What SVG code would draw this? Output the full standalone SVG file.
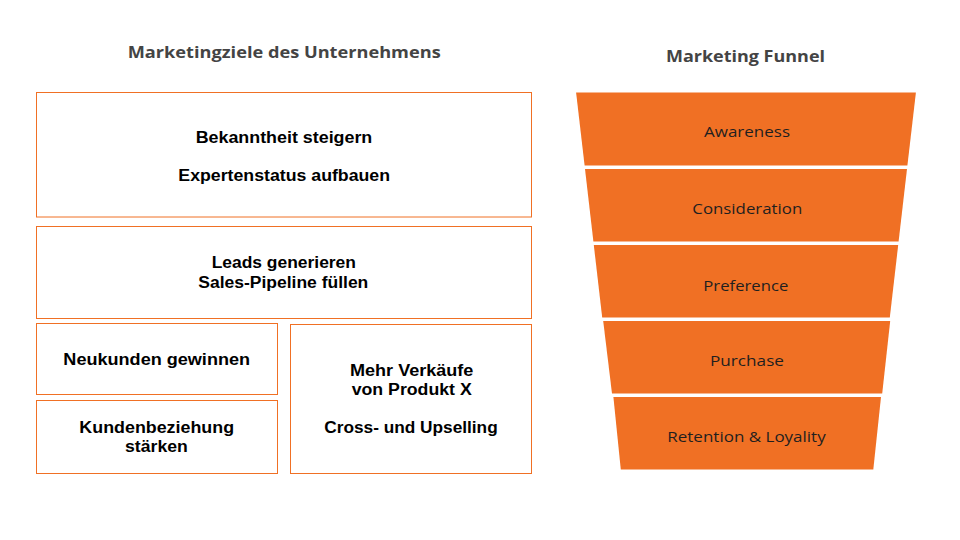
<svg xmlns="http://www.w3.org/2000/svg" width="960" height="540" viewBox="0 0 960 540">
<style>
.title{font-family:"Open Sans","Liberation Sans",sans-serif;font-weight:700;font-size:16px;fill:#444444;text-anchor:middle}
.box{fill:#ffffff;stroke:#F07024;stroke-width:1}
.bt{font-family:"Liberation Sans",Arial,sans-serif;font-weight:700;font-size:16px;fill:#000000;text-anchor:middle}
.seg{fill:#F07024}
.ft{font-family:"Open Sans","Liberation Sans",sans-serif;font-weight:400;font-size:15px;fill:#1f1f1f;text-anchor:middle}
</style>
<rect width="960" height="540" fill="#ffffff"/>
<text class="title" x="284.2" y="58.3" textLength="313" lengthAdjust="spacingAndGlyphs">Marketingziele des Unternehmens</text>
<text class="title" x="745.5" y="61.7" textLength="159" lengthAdjust="spacingAndGlyphs">Marketing Funnel</text>

<g id="goal-awareness">
<rect class="box" x="36.5" y="92.5" width="495" height="124.5"/>
<text class="bt" x="284" y="142.7" textLength="176.6" lengthAdjust="spacingAndGlyphs">Bekanntheit steigern</text>
<text class="bt" x="284.2" y="180.7" textLength="211.7" lengthAdjust="spacingAndGlyphs">Expertenstatus aufbauen</text>
</g>
<g id="goal-leads">
<rect class="box" x="36.5" y="226.5" width="495" height="92"/>
<text class="bt" x="283.8" y="268.3" textLength="144.3" lengthAdjust="spacingAndGlyphs">Leads generieren</text>
<text class="bt" x="283.3" y="287.7" textLength="170" lengthAdjust="spacingAndGlyphs">Sales-Pipeline füllen</text>
</g>
<g id="goal-newcustomers">
<rect class="box" x="36.5" y="323.5" width="241" height="71"/>
<text class="bt" x="156.7" y="365" textLength="186.7" lengthAdjust="spacingAndGlyphs">Neukunden gewinnen</text>
</g>
<g id="goal-relationship">
<rect class="box" x="36.5" y="400.5" width="241" height="73"/>
<text class="bt" x="156.7" y="433.3" textLength="154.7" lengthAdjust="spacingAndGlyphs">Kundenbeziehung</text>
<text class="bt" x="156.4" y="451.7" textLength="62.7" lengthAdjust="spacingAndGlyphs">stärken</text>
</g>
<g id="goal-sales">
<rect class="box" x="290.5" y="324.5" width="241" height="149"/>
<text class="bt" x="411.7" y="375.7" textLength="123.3" lengthAdjust="spacingAndGlyphs">Mehr Verkäufe</text>
<text class="bt" x="411.7" y="395" textLength="120" lengthAdjust="spacingAndGlyphs">von Produkt X</text>
<text class="bt" x="411" y="433.3" textLength="173.4" lengthAdjust="spacingAndGlyphs">Cross- und Upselling</text>
</g>

<g id="funnel-awareness">
<polygon class="seg" points="576.1,92.5 915.9,92.5 907.4,165.5 584.6,165.5"/>
<text class="ft" x="747" y="137.3" textLength="86" lengthAdjust="spacingAndGlyphs">Awareness</text>
</g>
<g id="funnel-consideration">
<polygon class="seg" points="585.0,169 907.0,169 898.6,241.5 593.4,241.5"/>
<text class="ft" x="747.3" y="214" textLength="110" lengthAdjust="spacingAndGlyphs">Consideration</text>
</g>
<g id="funnel-preference">
<polygon class="seg" points="593.8,245 898.2,245 889.8,317.5 602.2,317.5"/>
<text class="ft" x="745.8" y="290.7" textLength="85" lengthAdjust="spacingAndGlyphs">Preference</text>
</g>
<g id="funnel-purchase">
<polygon class="seg" points="603.2,321 890.2,321 882.2,393.5 612.0,393.5"/>
<text class="ft" x="747" y="365.7" textLength="74" lengthAdjust="spacingAndGlyphs">Purchase</text>
</g>
<g id="funnel-retention">
<polygon class="seg" points="613.4,397 881.0,397 873.3,469.5 620.8,469.5"/>
<text class="ft" x="746.5" y="441.7" textLength="158.4" lengthAdjust="spacingAndGlyphs">Retention &amp; Loyality</text>
</g>
<g id="connectors"/>
</svg>
